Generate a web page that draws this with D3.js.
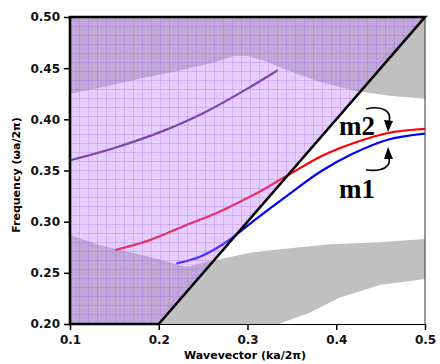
<!DOCTYPE html>
<html>
<head>
<meta charset="utf-8">
<script src="https://cdn.jsdelivr.net/npm/d3@7"></script>
<style>
  body { margin: 0; background: #fff; }
  svg { display: block; }
</style>
</head>
<body>
<svg id="chart" width="440" height="364"></svg>
<script>
// band diagram data (wavevector k, frequency w)
const xTicks = [0.1, 0.2, 0.3, 0.4, 0.5];
const yTicks = [0.20, 0.25, 0.30, 0.35, 0.40, 0.45, 0.50];

// upper gray band: lower edge
const upperK = [0.1, 0.14, 0.18, 0.22, 0.26, 0.285, 0.30, 0.32, 0.345, 0.38, 0.42, 0.46, 0.5];
const upperW = [0.425, 0.432, 0.440, 0.447, 0.455, 0.462, 0.462, 0.457, 0.448, 0.437, 0.428, 0.423, 0.420];

// lower gray band: top edge and bottom edge
const lowTopK = [0.1, 0.134, 0.19, 0.232, 0.25, 0.27, 0.306, 0.348, 0.393, 0.449, 0.5];
const lowTopW = [0.287, 0.277, 0.2655, 0.2557, 0.260, 0.2635, 0.270, 0.274, 0.278, 0.280, 0.283];
const lowBotK = [0.1, 0.335, 0.37, 0.404, 0.449, 0.5];
const lowBotW = [0.2, 0.2, 0.211, 0.226, 0.238, 0.244];

// light cone (above w = k)
const coneK = [0.1, 0.2, 0.5, 0.1];
const coneW = [0.2, 0.2, 0.5, 0.5];

// modes
const purpleK = [0.1, 0.15, 0.2, 0.25, 0.3, 0.334];
const purpleW = [0.360, 0.372, 0.387, 0.406, 0.430, 0.448];
const redK = [0.151, 0.19, 0.228, 0.269, 0.3065, 0.346, 0.382, 0.419, 0.457, 0.5];
const redW = [0.2723, 0.282, 0.2955, 0.310, 0.326, 0.3456, 0.3635, 0.3766, 0.3864, 0.3906];
const blueK = [0.22, 0.2465, 0.2766, 0.3065, 0.344, 0.382, 0.419, 0.457, 0.5];
const blueW = [0.2593, 0.2658, 0.2804, 0.3006, 0.325, 0.3488, 0.3665, 0.3798, 0.3860];

const zip = (ks, ws) => ks.map((k, i) => [k, ws[i]]);

const svg = d3.select("#chart");
const x = d3.scaleLinear().domain([0.1, 0.5]).range([70, 425]);
const y = d3.scaleLinear().domain([0.2, 0.5]).range([324, 17]);

const poly = d3.line().x(d => x(d[0])).y(d => y(d[1]));
const smooth = d3.line().x(d => x(d[0])).y(d => y(d[1])).curve(d3.curveMonotoneX);

const defs = svg.append("defs");
defs.append("clipPath").attr("id", "plotclip")
  .append("rect").attr("x", x(0.1)).attr("y", y(0.5))
  .attr("width", x(0.5) - x(0.1)).attr("height", y(0.2) - y(0.5));

const pat = defs.append("pattern").attr("id", "grid")
  .attr("patternUnits", "userSpaceOnUse").attr("width", 9).attr("height", 9)
  .attr("x", x(0.1)).attr("y", y(0.5));
pat.append("path").attr("d", "M0,0.5H9M0.5,0V9")
  .attr("stroke", "rgba(165,95,235,0.28)").attr("stroke-width", 1);
pat.append("rect").attr("x", 4).attr("y", 4).attr("width", 1).attr("height", 1)
  .attr("fill", "rgba(165,95,235,0.2)");

const g = svg.append("g").attr("clip-path", "url(#plotclip)");

// gray bands
const upperPts = [[0.1, 0.5]].concat(zip(upperK, upperW), [[0.5, 0.5]]);
g.append("path").attr("d", poly(upperPts)).attr("fill", "#c0c0c0");
const lowPts = zip(lowTopK, lowTopW).concat(zip(lowBotK, lowBotW).reverse());
g.append("path").attr("d", poly(lowPts)).attr("fill", "#c0c0c0");

// modes
g.append("path").attr("d", smooth(zip(purpleK, purpleW)))
  .attr("fill", "none").attr("stroke", "#4a2a6a").attr("stroke-width", 2.2);
g.append("path").attr("d", smooth(zip(redK, redW)))
  .attr("fill", "none").attr("stroke", "#ff0000").attr("stroke-width", 2.2);
g.append("path").attr("d", smooth(zip(blueK, blueW)))
  .attr("fill", "none").attr("stroke", "#0000ff").attr("stroke-width", 2.2);

// light cone overlay
const conePts = zip(coneK, coneW);
g.append("path").attr("d", poly(conePts) + "Z").attr("fill", "rgba(190,125,255,0.38)");
g.append("path").attr("d", poly(conePts) + "Z").attr("fill", "url(#grid)");

// thin frame: right and bottom
svg.append("line").attr("x1", x(0.5)).attr("x2", x(0.5)).attr("y1", y(0.5)).attr("y2", y(0.2))
  .attr("stroke", "#333").attr("stroke-width", 1);
svg.append("line").attr("x1", x(0.2)).attr("x2", x(0.5)).attr("y1", y(0.2) + 0.5).attr("y2", y(0.2) + 0.5)
  .attr("stroke", "#000").attr("stroke-width", 1);

// thick cone outline
svg.append("path").attr("d", poly(conePts) + "Z")
  .attr("fill", "none").attr("stroke", "#000").attr("stroke-width", 2.6)
  .attr("stroke-linejoin", "miter");

// axes
const font = "'DejaVu Sans', Verdana, sans-serif";
const xAxis = svg.append("g").attr("transform", `translate(0,${y(0.2)})`)
  .call(d3.axisBottom(x).tickValues(xTicks).tickFormat(d3.format(".1f")).tickSize(6).tickPadding(5));
const yAxis = svg.append("g").attr("transform", `translate(${x(0.1)},0)`)
  .call(d3.axisLeft(y).tickValues(yTicks).tickFormat(d3.format(".2f")).tickSize(6).tickPadding(4));
[xAxis, yAxis].forEach(a => {
  a.select(".domain").remove();
  a.selectAll(".tick line").attr("stroke", "#000").attr("stroke-width", 1.5);
  a.selectAll("text").attr("font-family", font).attr("font-weight", "bold")
    .attr("font-size", 12).attr("fill", "#111");
});

svg.append("text").attr("x", 245).attr("y", 359).attr("text-anchor", "middle")
  .attr("font-family", font).attr("font-weight", "bold").attr("font-size", 11)
  .text("Wavevector (ka/2π)");
svg.append("text").attr("transform", "translate(20,175) rotate(-90)").attr("text-anchor", "middle")
  .attr("font-family", font).attr("font-weight", "bold").attr("font-size", 11)
  .text("Frequency (ωa/2π)");

// annotations
const serif = "'Liberation Serif', 'Times New Roman', serif";
svg.append("text").attr("x", 339).attr("y", 135).attr("font-family", serif)
  .attr("font-weight", "bold").attr("font-size", 27).text("m2");
svg.append("text").attr("x", 339).attr("y", 198).attr("font-family", serif)
  .attr("font-weight", "bold").attr("font-size", 27).text("m1");

svg.append("path").attr("d", "M366,109 C384,105 392,112 389,122")
  .attr("fill", "none").attr("stroke", "#000").attr("stroke-width", 1.6);
svg.append("path").attr("d", "M388,132 L384,120 L393,121 Z").attr("fill", "#000");
svg.append("path").attr("d", "M366,170 C384,172 391,166 389,158")
  .attr("fill", "none").attr("stroke", "#000").attr("stroke-width", 1.6);
svg.append("path").attr("d", "M388,147 L384,159 L393,159 Z").attr("fill", "#000");
</script>
</body>
</html>
